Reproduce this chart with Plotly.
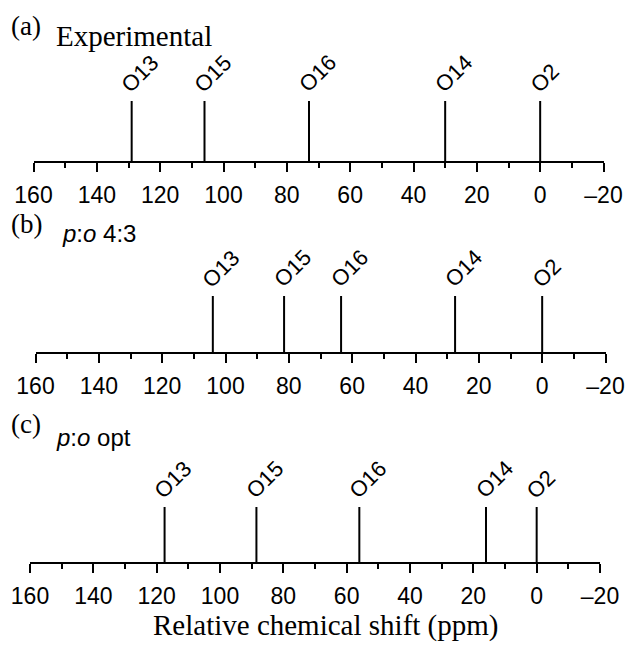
import plotly.graph_objects as go

# ---- data ----
panel_letters = ["(a)", "(b)", "(c)"]
panel_titles = ["Experimental", "<i>p</i>:<i>o</i> 4:3", "<i>p</i>:<i>o</i> opt"]
peak_names = ["O13", "O15", "O16", "O14", "O2"]
shifts_exp = [129, 106, 73, 30, 0]
shifts_43 = [104, 81.5, 63.5, 27.5, 0]
shifts_opt = [117.5, 88.5, 56, 16, 0]
tick_vals = [160, 140, 120, 100, 80, 60, 40, 20, 0, -20]
tick_text = ["160", "140", "120", "100", "80", "60", "40", "20", "0", "\u201320"]
x_title = "Relative chemical shift (ppm)"

W, H = 626, 645
# layout geometry in pixels (x-left, x-right, axis y, stick top y)
panels_px = [
    (33.5, 603.5, 161, 101),
    (35.5, 605.5, 352, 296),
    (30.0, 600.0, 562, 507),
]
letter_y = [26, 224, 424]
title_y = [36, 233, 437]
title_x = [54, 60, 54]

series = [shifts_exp, shifts_43, shifts_opt]

fig = go.Figure()
SANS = "Liberation Sans, Arial, sans-serif"
SERIF = "Liberation Serif, Times New Roman, serif"

annotations = []
for i, (vals, geo) in enumerate(zip(series, panels_px)):
    xl, xr, ya, yt = geo
    n = "" if i == 0 else str(i + 1)
    xs, ys = [], []
    for v in vals:
        xs += [v, v, None]
        ys += [0, 1, None]
    fig.add_trace(go.Scatter(x=xs, y=ys, mode="lines",
                             line=dict(color="black", width=2),
                             xaxis="x" + n, yaxis="y" + n,
                             showlegend=False, hoverinfo="skip"))
    fig.update_layout(**{
        "xaxis" + n: dict(
            domain=[xl / W, xr / W], anchor="y" + n, automargin=False,
            range=[160, -20], showgrid=False, zeroline=False,
            showline=True, linecolor="black", linewidth=2,
            ticks="outside", ticklen=9, tickwidth=2, tickcolor="black",
            tickvals=tick_vals, ticktext=tick_text,
            ticklabeloverflow="allow", ticklabelstandoff=3,
            tickfont=dict(family=SANS, size=23, color="black"),
            minor=dict(ticks="outside", dtick=10, tick0=0, ticklen=5,
                       tickwidth=2, tickcolor="black", showgrid=False),
        ),
        "yaxis" + n: dict(
            domain=[1 - ya / H, 1 - yt / H], anchor="x" + n, automargin=False,
            range=[0, 1], visible=False, showgrid=False, zeroline=False,
        ),
    })
    for name, v in zip(peak_names, vals):
        annotations.append(dict(
            x=v, y=1, xref="x" + n, yref="y" + n, text=name,
            showarrow=False, textangle=-45, xanchor="left", yanchor="bottom",
            xshift=-18, yshift=1,
            font=dict(family=SANS, size=22, color="black")))
    annotations.append(dict(
        x=9 / W, y=1 - letter_y[i] / H, xref="paper", yref="paper",
        text=panel_letters[i], showarrow=False, xanchor="left", yanchor="middle",
        font=dict(family=SERIF, size=27, color="black")))
    if i == 0:
        annotations.append(dict(
            x=title_x[i] / W, y=1 - title_y[i] / H, xref="paper", yref="paper",
            text=panel_titles[i], showarrow=False, xanchor="left", yanchor="middle",
            font=dict(family=SERIF, size=29, color="black")))
    else:
        annotations.append(dict(
            x=title_x[i] / W, y=1 - title_y[i] / H, xref="paper", yref="paper",
            text=panel_titles[i], showarrow=False, xanchor="left", yanchor="middle",
            font=dict(family=SANS, size=24, color="black")))

annotations.append(dict(
    x=325 / W, y=1 - 625 / H, xref="paper", yref="paper", text=x_title,
    showarrow=False, xanchor="center", yanchor="middle",
    font=dict(family=SERIF, size=29, color="black")))

fig.update_layout(width=W, height=H, margin=dict(l=0, r=0, t=0, b=0),
                  plot_bgcolor="white", paper_bgcolor="white",
                  annotations=annotations)

fig.write_html("out.html", config={"displayModeBar": False},
               post_script="document.body.style.margin='0';"
                           "document.body.style.overflow='hidden';")
